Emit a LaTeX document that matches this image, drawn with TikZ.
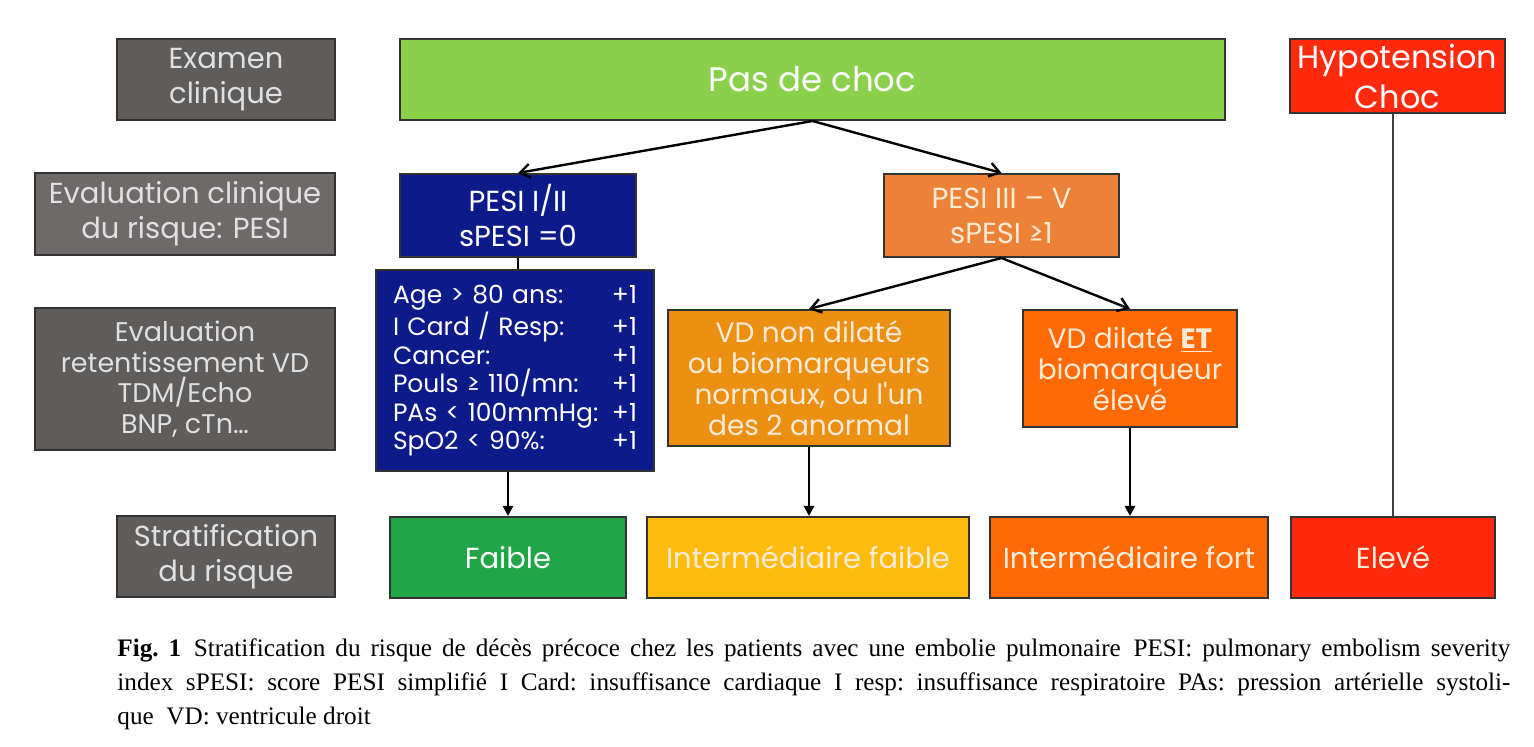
\documentclass[tikz,border=0pt]{standalone}
\usepackage{fontspec}
\setmainfont{Liberation Serif}
\newfontfamily\gothic{Poppins}
\usetikzlibrary{arrows.meta}

\definecolor{rowgray}{HTML}{5F5C5C}
\definecolor{rowgraylight}{HTML}{6E6A6A}
\definecolor{chocgreen}{HTML}{8BD04A}
\definecolor{shockred}{HTML}{FF2A0E}
\definecolor{pesiblue}{HTML}{0C1A8A}
\definecolor{pesiorange}{HTML}{EC8238}
\definecolor{vdorange}{HTML}{EB9012}
\definecolor{vdred}{HTML}{FF6A06}
\definecolor{lowgreen}{HTML}{20A646}
\definecolor{midyellow}{HTML}{FFBB0E}
\definecolor{softtext}{HTML}{FBEBD6}

\begin{document}
\begin{tikzpicture}[x=0.5pt,y=-0.5pt,
  box/.style={draw=black!80, line width=1pt, inner sep=0pt, align=center, text=white},
  rowbox/.style={box, fill=rowgray, text=white!88!black},
  flow/.style={line width=1.2pt, -{Straight Barb[length=5pt,width=7pt]}},
  drop/.style={line width=1.2pt, -{Triangle[length=5pt,width=5pt]}},
  big/.style={font=\gothic\fontsize{17}{20}\selectfont},
  mid/.style={font=\gothic\fontsize{14.5}{17.5}\selectfont}]
\useasboundingbox (0,0) rectangle (1534,747);

% row labels on the left
\node[rowbox, mid] (exam) at (226,79.5) [minimum width=109pt, minimum height=40.5pt] {Examen\\clinique};
\node[rowbox, mid, fill=rowgraylight] (evalpesi) at (185,214) [minimum width=150pt, minimum height=41pt] {Evaluation clinique\\du risque: PESI};
\node[rowbox, font=\gothic\fontsize{13.5}{15.3}\selectfont] (evalvd) at (185,379) [minimum width=150pt, minimum height=71pt] {Evaluation\\retentissement VD\\TDM/Echo\\BNP, cTn\dots};
\node[rowbox, mid] (strat) at (226,556.5) [minimum width=109pt, minimum height=40.5pt] {Stratification\\du risque};

% top row
\node[box, big, fill=chocgreen] (choc) at (812.5,79.5) [minimum width=412.5pt, minimum height=40.5pt] {Pas de choc};
\node[box, fill=shockred, font=\gothic\fontsize{16}{20}\selectfont] (hypo) at (1397.5,76) [minimum width=107.5pt, minimum height=37pt] {Hypotension\\Choc};

% PESI
\node[box, mid, fill=pesiblue] (pesilow) at (518,215.5) [minimum width=118pt, minimum height=41.5pt] {PESI I/II\\sPESI =0};
\node[box, mid, fill=pesiorange, text=softtext] (pesihigh) at (1001.5,215.5) [minimum width=117.5pt, minimum height=41.5pt] {PESI III – V\\sPESI ≥1};

% score and right ventricle
\node[box, fill=pesiblue, font=\gothic\fontsize{12.5}{14.25}\selectfont, text width=122pt, align=left] (score) at (515,370.5) [minimum width=139pt, minimum height=100.5pt]
  {Age > 80 ans:\hfill +1\\I Card / Resp:\hfill +1\\Cancer:\hfill +1\\Pouls ≥ 110/mn:\hfill +1\\PAs < 100mmHg:\hfill +1\\SpO2 < 90\%:\hfill +1};
\node[box, fill=vdorange, text=softtext, font=\gothic\fontsize{14}{15.5}\selectfont] (vdnorm) at (809,378) [minimum width=141pt, minimum height=68pt] {VD non dilaté\\ou biomarqueurs\\normaux, ou l'un\\des 2 anormal};
\node[box, fill=vdred, text=softtext, font=\gothic\fontsize{14}{15.5}\selectfont] (vddil) at (1130,368.5) [minimum width=107pt, minimum height=58.5pt] {VD dilaté \underline{\textbf{ET}}\\biomarqueur\\élevé};

% risk level
\node[box, mid, fill=lowgreen] (faible) at (508,557.5) [minimum width=118pt, minimum height=40.5pt] {Faible};
\node[box, mid, fill=midyellow, text=softtext] (intfaible) at (808,557.5) [minimum width=161pt, minimum height=40.5pt] {Intermédiaire faible};
\node[box, mid, fill=vdred, text=softtext] (intfort) at (1129,557.5) [minimum width=139pt, minimum height=40.5pt] {Intermédiaire fort};
\node[box, mid, fill=shockred, text=softtext] (eleve) at (1393,557.5) [minimum width=102pt, minimum height=40.5pt] {Elevé};

\draw[flow] (choc.south) -- (pesilow.north);
\draw[flow] (choc.south) -- (pesihigh.north);
\draw[line width=1.2pt] (pesilow.south) -- (pesilow.south |- score.north);
\draw[drop] (score.south -| faible.north) -- (faible.north);
\draw[flow] (pesihigh.south) -- (vdnorm.north);
\draw[flow] (pesihigh.south) -- (vddil.north);
\draw[drop] (vdnorm.south) -- (vdnorm.south |- intfaible.north);
\draw[drop] (vddil.south) -- (vddil.south |- intfort.north);
\draw[line width=1.2pt, black!75] (hypo.south -| eleve.north) -- (eleve.north);

% caption
\node[anchor=north west, inner sep=0pt, text width=696.5pt, align=justify, font=\fontsize{12.6}{17}\selectfont\frenchspacing] (caption) at (117,638)
  {\textbf{Fig. 1}\enskip Stratification du risque de décès précoce chez les patients avec une embolie pulmonaire\enskip PESI: pulmonary embolism severity\linebreak
  index\enskip sPESI: score PESI simplifié\enskip I Card: insuffisance cardiaque\enskip I resp: insuffisance respiratoire\enskip PAs: pression artérielle systoli-\linebreak
  que\enskip VD: ventricule droit};
\end{tikzpicture}
\end{document}
